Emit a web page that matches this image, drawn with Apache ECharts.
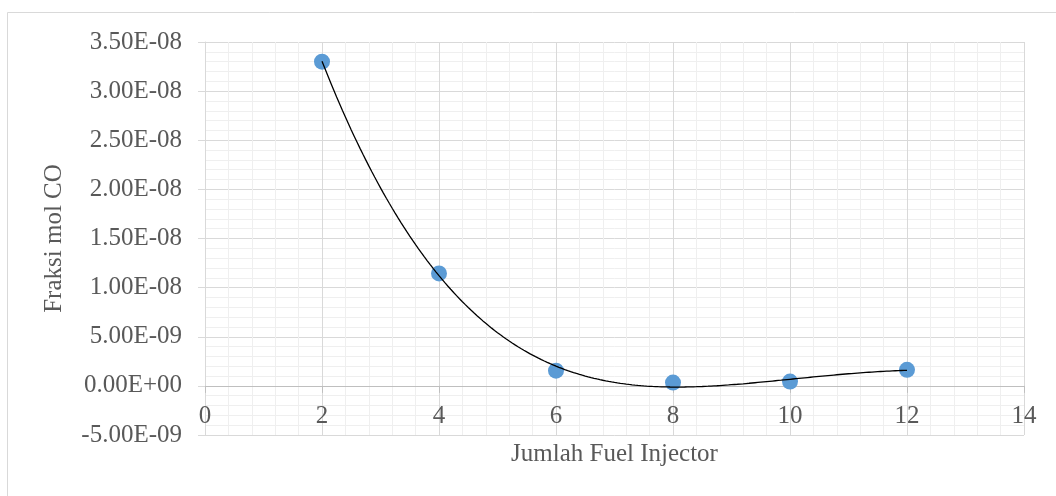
<!DOCTYPE html>
<html>
<head>
<meta charset="utf-8">
<script src="https://cdn.jsdelivr.net/npm/echarts@6/dist/echarts.min.js"></script>
<style>
  html, body { margin: 0; padding: 0; background: #ffffff; }
  #chart { width: 1056px; height: 496px; }
</style>
</head>
<body>
<div id="chart"></div>
<script>
// ---- data ----
const injectorCounts = [2, 4, 6, 8, 10, 12];
const coMoleFraction = [3.30e-8, 1.145e-8, 1.55e-9, 3.4e-10, 4.4e-10, 1.63e-9];
const xAxisTitle = 'Jumlah Fuel Injector';
const yAxisTitle = 'Fraksi mol CO';
const trendOrder = 4; // polynomial trendline order (as in the spreadsheet chart)

// ---- least-squares polynomial trendline computed from the data ----
function polyFit(xs, ys, order) {
  const n = order + 1;
  const cx = 7, sx = 5, sy = 1e9;
  const A = [], b = [];
  for (let i = 0; i < n; i++) { A.push(new Array(n).fill(0)); b.push(0); }
  xs.forEach((x, k) => {
    const t = (x - cx) / sx, y = ys[k] * sy;
    for (let i = 0; i < n; i++) {
      for (let j = 0; j < n; j++) A[i][j] += Math.pow(t, i + j);
      b[i] += y * Math.pow(t, i);
    }
  });
  for (let c = 0; c < n; c++) {
    let p = c;
    for (let r = c + 1; r < n; r++) if (Math.abs(A[r][c]) > Math.abs(A[p][c])) p = r;
    [A[c], A[p]] = [A[p], A[c]]; [b[c], b[p]] = [b[p], b[c]];
    for (let r = c + 1; r < n; r++) {
      const f = A[r][c] / A[c][c];
      for (let j = c; j < n; j++) A[r][j] -= f * A[c][j];
      b[r] -= f * b[c];
    }
  }
  const coef = new Array(n).fill(0);
  for (let r = n - 1; r >= 0; r--) {
    let s = b[r];
    for (let j = r + 1; j < n; j++) s -= A[r][j] * coef[j];
    coef[r] = s / A[r][r];
  }
  return x => {
    const t = (x - cx) / sx;
    let v = 0;
    for (let i = n - 1; i >= 0; i--) v = v * t + coef[i];
    return v / sy;
  };
}
const trend = polyFit(injectorCounts, coMoleFraction, trendOrder);
const xStart = injectorCounts[0], xEnd = injectorCounts[injectorCounts.length - 1];
const trendData = [];
for (let i = 0; i <= 200; i++) {
  const x = xStart + (xEnd - xStart) * i / 200;
  trendData.push([x, trend(x)]);
}

function sciLabel(v) {
  if (Math.abs(v) < 1e-20) return '0.00E+00';
  const s = v.toExponential(2);
  const parts = s.split('e');
  let exp = parseInt(parts[1], 10);
  const sign = exp < 0 ? '-' : '+';
  exp = Math.abs(exp);
  return parts[0] + 'E' + sign + (exp < 10 ? '0' + exp : '' + exp);
}

const textColor = '#595959';
const fontFamily = '"Liberation Serif", "DejaVu Serif", serif';

const chart = echarts.init(document.getElementById('chart'), null, { renderer: 'canvas' });
chart.setOption({
  animation: false,
  backgroundColor: '#ffffff',
  graphic: [{
    type: 'rect',
    shape: { x: 7.5, y: 12.5, width: 1100, height: 520 },
    style: { fill: 'none', stroke: '#d9d9d9', lineWidth: 1 },
    silent: true,
    z: -10
  }],
  grid: { left: 205, right: 32, top: 42, bottom: 61, containLabel: false, outerBoundsMode: 'none' },
  xAxis: {
    type: 'value',
    min: 0, max: 14, interval: 2,
    name: xAxisTitle,
    nameLocation: 'middle',
    nameGap: 7,
    nameTextStyle: { color: textColor, fontFamily: fontFamily, fontSize: 25 },
    axisLine: { show: true, onZero: true, lineStyle: { color: '#bfbfbf', width: 1 } },
    axisTick: { show: true, length: 7, lineStyle: { color: '#bfbfbf' } },
    axisLabel: { color: textColor, fontFamily: fontFamily, fontSize: 25, margin: -31 },
    splitLine: { show: true, lineStyle: { color: '#d9d9d9', width: 1 } },
    minorTick: { show: false, splitNumber: 5 },
    minorSplitLine: { show: true, lineStyle: { color: '#efefef', width: 1 } }
  },
  yAxis: {
    type: 'value',
    min: -5e-9, max: 3.5e-8, interval: 5e-9,
    name: yAxisTitle,
    nameLocation: 'middle',
    nameGap: 138,
    nameTextStyle: { color: textColor, fontFamily: fontFamily, fontSize: 25 },
    axisLine: { show: true, lineStyle: { color: '#d9d9d9', width: 1 } },
    axisTick: { show: true, length: 7, lineStyle: { color: '#d9d9d9' } },
    axisLabel: { color: textColor, fontFamily: fontFamily, fontSize: 25, margin: 23, formatter: sciLabel },
    splitLine: { show: true, lineStyle: { color: '#d9d9d9', width: 1 } },
    minorTick: { show: false, splitNumber: 5 },
    minorSplitLine: { show: true, lineStyle: { color: '#efefef', width: 1 } }
  },
  series: [
    {
      name: 'CO',
      type: 'scatter',
      data: injectorCounts.map((x, i) => [x, coMoleFraction[i]]),
      symbol: 'circle',
      symbolSize: 16,
      itemStyle: { color: '#5b9bd5', opacity: 1 },
      z: 2
    },
    {
      name: 'Trend',
      type: 'line',
      data: trendData,
      showSymbol: false,
      smooth: false,
      lineStyle: { color: '#000000', width: 1.3 },
      z: 3
    }
  ]
});
</script>
</body>
</html>
